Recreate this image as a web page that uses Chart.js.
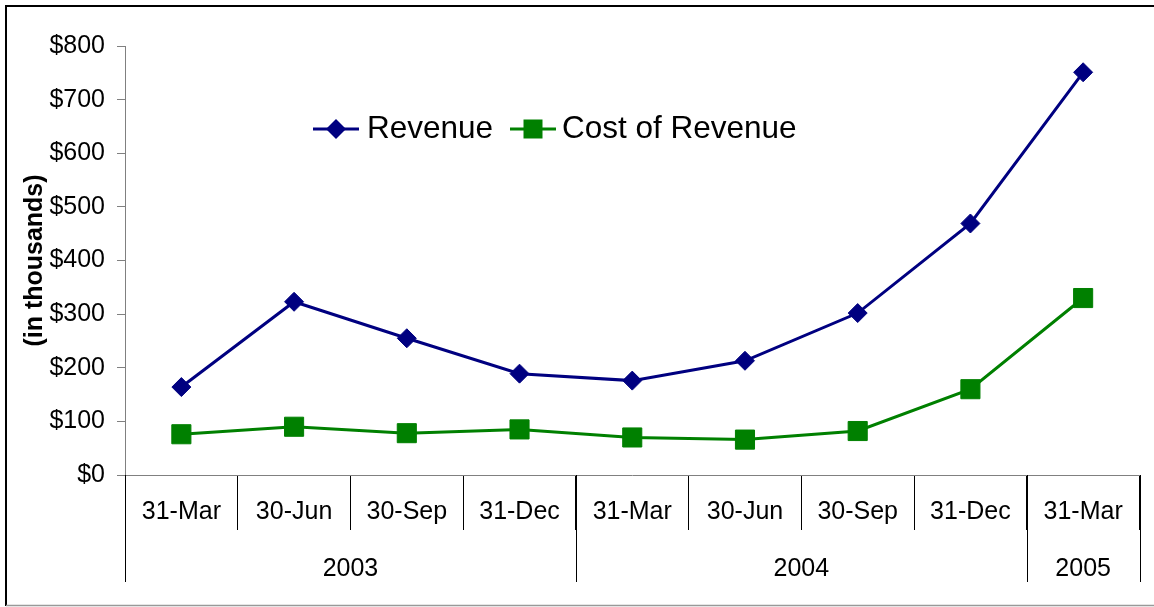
<!DOCTYPE html>
<html>
<head>
<meta charset="utf-8">
<title>Revenue and Cost of Revenue</title>
<script src="https://cdn.jsdelivr.net/npm/chart.js@4/dist/chart.umd.min.js"></script>
<style>
  html, body { margin: 0; padding: 0; background: #fff; }
  canvas { display: block; }
</style>
</head>
<body>
<canvas id="revenueChart" width="1154" height="607"></canvas>
<script>
// Quarter-end labels, and how they group into years
const quarters = ["31-Mar", "30-Jun", "30-Sep", "31-Dec", "31-Mar", "30-Jun", "30-Sep", "31-Dec", "31-Mar"];
const years = ["2003", "2004", "2005"];
const quartersPerYear = [4, 4, 1];

// Values in thousands of dollars
const revenue = [164, 323, 255, 189, 176, 213, 302, 469, 751];
const costOfRevenue = [76, 90, 78, 85, 70, 66, 82, 160, 330];

// Y axis range
const yMin = 0;
const yMax = 800;
const yStep = 100;

const FONT = "'Liberation Sans', Arial, sans-serif";
Chart.defaults.font.family = FONT;
Chart.defaults.color = "#000";

// Draws the year row under the quarter labels
const yearRowPlugin = {
  id: "yearRow",
  afterDraw(chart) {
    const ctx = chart.ctx;
    const x = chart.scales.x;
    const half = (x.getPixelForValue(1) - x.getPixelForValue(0)) / 2;
    const top = chart.chartArea.bottom;
    let start = 0;

    ctx.save();
    ctx.strokeStyle = "#000";
    ctx.lineWidth = 1;
    ctx.fillStyle = "#000";
    ctx.font = "25px " + FONT;
    ctx.textAlign = "center";
    ctx.textBaseline = "alphabetic";

    years.forEach((year, i) => {
      const n = quartersPerYear[i];
      const left = x.getPixelForValue(start) - half;
      const right = x.getPixelForValue(start + n - 1) + half;

      ctx.beginPath();
      ctx.moveTo(Math.round(left) + 0.5, top);
      ctx.lineTo(Math.round(left) + 0.5, 582);
      ctx.moveTo(Math.round(right) + 0.5, top);
      ctx.lineTo(Math.round(right) + 0.5, 582);
      ctx.stroke();

      ctx.fillText(year, (left + right) / 2, 576);
      start += n;
    });
    ctx.restore();
  }
};

// Legend with a short line and the marker, placed inside the plot
const lineLegendPlugin = {
  id: "lineLegend",
  afterDraw(chart) {
    const ctx = chart.ctx;
    const spots = [{ x: 313, textX: 367 }, { x: 510, textX: 562 }];
    const y = 129;

    ctx.save();
    ctx.font = "31.5px " + FONT;
    ctx.textBaseline = "alphabetic";
    ctx.textAlign = "left";

    chart.data.datasets.forEach((ds, i) => {
      const s = spots[i];
      const cx = s.x + 23;

      ctx.strokeStyle = ds.borderColor;
      ctx.lineWidth = 3;
      ctx.beginPath();
      ctx.moveTo(s.x, y);
      ctx.lineTo(s.x + 46, y);
      ctx.stroke();

      ctx.fillStyle = ds.borderColor;
      ctx.beginPath();
      if (ds.pointStyle === "rectRot") {
        ctx.moveTo(cx, y - 10);
        ctx.lineTo(cx + 10, y);
        ctx.lineTo(cx, y + 10);
        ctx.lineTo(cx - 10, y);
        ctx.closePath();
      } else {
        ctx.rect(cx - 9.5, y - 9.5, 19, 19);
      }
      ctx.fill();

      ctx.fillStyle = "#000";
      ctx.fillText(ds.label, s.textX, 138);
    });
    ctx.restore();
  }
};

// Outer frame around the whole picture
const framePlugin = {
  id: "frame",
  afterDraw(chart) {
    const ctx = chart.ctx;
    ctx.save();
    ctx.strokeStyle = "#000";
    ctx.lineWidth = 2;
    ctx.beginPath();
    ctx.moveTo(1154, 6);
    ctx.lineTo(6, 6);
    ctx.lineTo(6, 606);
    ctx.stroke();
    ctx.strokeStyle = "#999";
    ctx.lineWidth = 1.5;
    ctx.beginPath();
    ctx.moveTo(6, 605.5);
    ctx.lineTo(1154, 605.5);
    ctx.stroke();
    ctx.restore();
  }
};

const chartCtx = document.getElementById("revenueChart").getContext("2d");

const revenueChart = new Chart(chartCtx, {
  type: "line",
  data: {
    labels: quarters,
    datasets: [
      {
        label: "Revenue",
        data: revenue,
        borderColor: "#000080",
        backgroundColor: "#000080",
        borderWidth: 3,
        pointStyle: "rectRot",
        pointRadius: 9.5,
        pointHoverRadius: 9.5,
        pointBorderWidth: 1,
        tension: 0
      },
      {
        label: "Cost of Revenue",
        data: costOfRevenue,
        borderColor: "#008000",
        backgroundColor: "#008000",
        borderWidth: 3,
        pointStyle: "rect",
        pointRadius: 13.5,
        pointHoverRadius: 13.5,
        pointBorderWidth: 1,
        tension: 0
      }
    ]
  },
  options: {
    responsive: false,
    animation: false,
    layout: {
      padding: { top: 46, right: 12, bottom: 0, left: 0 }
    },
    plugins: {
      legend: { display: false },
      tooltip: { enabled: false }
    },
    scales: {
      x: {
        offset: true,
        grid: { offset: true, drawOnChartArea: false, tickLength: 55, color: "#000", lineWidth: 1 },
        border: { color: "#808080", width: 1 },
        ticks: { padding: -33, font: { size: 25 }, color: "#000", maxRotation: 0, autoSkip: false },
        afterFit(scale) { scale.height = 132; }
      },
      y: {
        min: yMin,
        max: yMax,
        ticks: {
          stepSize: yStep,
          padding: 12,
          font: { size: 25 },
          color: "#000",
          callback: (v) => "$" + v
        },
        grid: { drawOnChartArea: false, tickLength: 8, color: "#808080" },
        border: { color: "#808080", width: 1 },
        title: {
          display: true,
          text: "(in thousands)",
          font: { size: 25, weight: "bold" },
          color: "#000",
          padding: { top: 20, bottom: 0 }
        },
        afterFit(scale) { scale.width = 125; }
      }
    }
  },
  plugins: [yearRowPlugin, lineLegendPlugin, framePlugin]
});
</script>
</body>
</html>
